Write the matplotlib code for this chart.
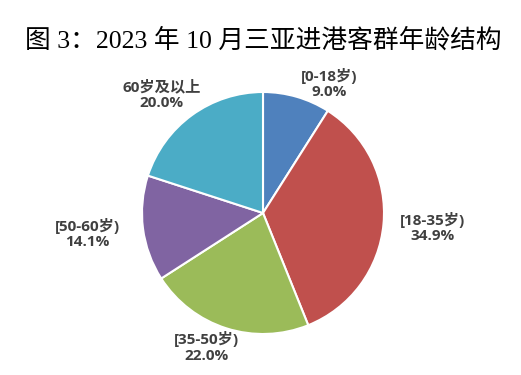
import matplotlib.pyplot as plt

plt.rcParams['font.family'] = ['Noto Sans CJK SC', 'DejaVu Sans']

# 数据
labels = ["[0-18岁)", "[18-35岁)", "[35-50岁)", "[50-60岁)", "60岁及以上"]
values = [9.0, 34.9, 22.0, 14.1, 20.0]
colors = ["#4F81BD", "#C0504D", "#9BBB59", "#8064A2", "#4BACC6"]
# 标签位置（饼图半径为 1）
label_pos = [(0.55, 1.07), (1.40, -0.12), (-0.47, -1.11), (-1.45, -0.17), (-0.84, 0.98)]

W, H = 521, 375
fig = plt.figure(figsize=(W / 100, H / 100), dpi=100)

fig.text(263 / W, 1 - 40 / H, "图 3：2023 年 10 月三亚进港客群年龄结构",
         ha="center", va="center", fontsize=18.5,
         family=["Liberation Serif", "Noto Sans CJK SC"])

cx, cy, r = 263, 213, 121
ax = fig.add_axes([(cx - r) / W, (H - cy - r) / H, 2 * r / W, 2 * r / H])
ax.pie(values, colors=colors, startangle=90, counterclock=False,
       wedgeprops=dict(edgecolor="white", linewidth=1.5))
ax.set_xlim(-1, 1)
ax.set_ylim(-1, 1)
ax.axis("off")

for lab, val, (x, y) in zip(labels, values, label_pos):
    ax.text(x, y, f"{lab}\n{val:.1f}%", ha="center", va="center",
            fontsize=11, fontweight="bold", color="#404040", linespacing=1.15,
            family=["Open Sans", "Noto Sans CJK SC"])

plt.savefig("out.png", dpi=100)
